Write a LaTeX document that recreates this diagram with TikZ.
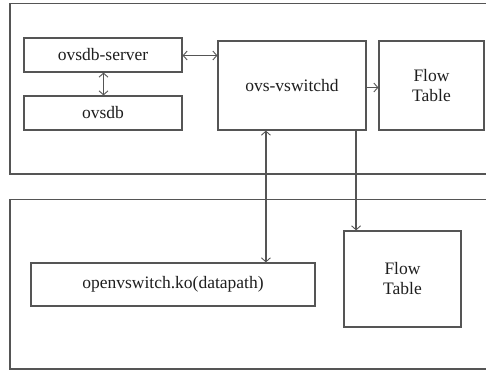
\documentclass[tikz,border=0pt]{standalone}
\usepackage{fontspec}
\setmainfont{Liberation Serif}
\usetikzlibrary{arrows.meta}
\definecolor{edgegray}{HTML}{555555}
\definecolor{inkgray}{HTML}{1E1E1E}
\begin{document}
\begin{tikzpicture}[x=1pt,y=1pt,
  box/.style={draw=edgegray,line width=1.2pt,rectangle,inner sep=0pt,
    align=center,text=inkgray,font=\fontsize{17.5}{20}\selectfont},
  frame/.style={draw=edgegray,line width=1.4pt},
  link/.style={draw=edgegray,line width=1.3pt}]
\useasboundingbox (0,0) rectangle (486,370);
\fill[white] (0,0) rectangle (486,370);

% user-space and kernel-space containers, open on the right
\draw[frame] (487,366.5) -- (10,366.5) -- (10,196) -- (487,196);
\draw[frame] (487,170.5) -- (10,170.5) -- (10,1) -- (487,1);

% user-space components
\node[box,minimum width=158,minimum height=34] (srv) at (103,315) {ovsdb-server};
\node[box,minimum width=158,minimum height=34] (db) at (103,257) {ovsdb};
\node[box,minimum width=148,minimum height=89] (vs) at (292,284.5) {ovs-vswitchd};
\node[box,minimum width=105,minimum height=89] (ft1) at (431.5,284.5) {Flow\\Table};

% kernel-space components
\node[box,minimum width=284,minimum height=43] (ko) at (173,85.5) {openvswitch.ko(datapath)};
\node[box,minimum width=117,minimum height=96] (ft2) at (402.5,91) {Flow\\Table};

% connectors
\draw[link,{Straight Barb[length=4pt,width=9pt,line width=0.9pt]}-{Straight Barb[length=4pt,width=9pt,line width=0.9pt]}]
  ([xshift=0.5pt]srv.south) -- ([xshift=0.5pt]db.north);
\draw[link,{Straight Barb[length=4pt,width=9pt,line width=0.9pt]}-{Straight Barb[length=4pt,width=9pt,line width=0.9pt]}]
  ([yshift=-0.5pt]srv.east) -- ([yshift=-0.5pt]srv.east -| vs.west);
\draw[link,-{Straight Barb[length=4pt,width=9pt,line width=0.9pt]}]
  ([yshift=-2pt]vs.east) -- ([yshift=-2pt]vs.east -| ft1.west);
\draw[link,{Straight Barb[length=4pt,width=9pt,line width=0.9pt]}-{Straight Barb[length=4pt,width=9pt,line width=0.9pt]}]
  ([xshift=48.5pt]vs.south west) -- ([xshift=48.5pt]vs.south west |- ko.north);
\draw[link,-{Straight Barb[length=4pt,width=9pt,line width=0.9pt]}]
  ([xshift=-10.5pt]vs.south east) -- ([xshift=-10.5pt]vs.south east |- ft2.north);
\end{tikzpicture}
\end{document}
